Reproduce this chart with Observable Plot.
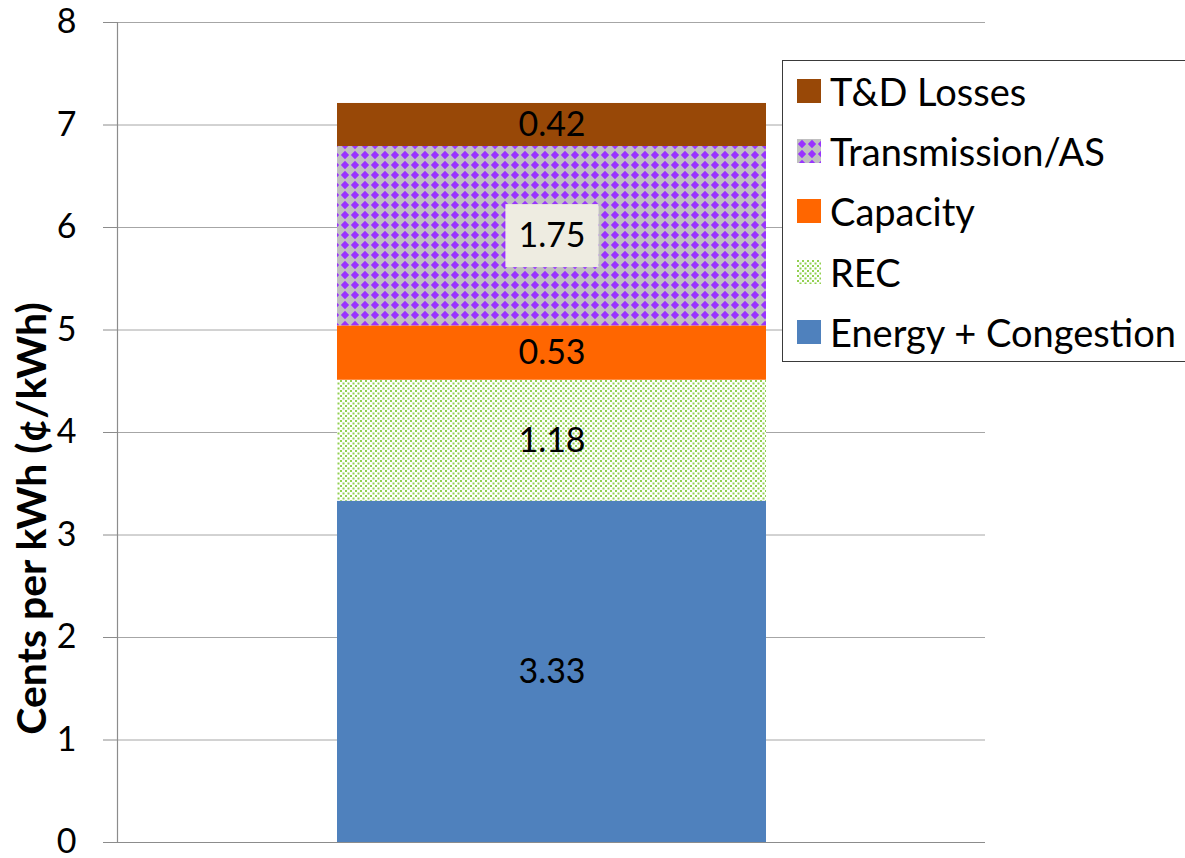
<!DOCTYPE html>
<html>
<head>
<meta charset="utf-8">
<script src="https://cdn.jsdelivr.net/npm/d3@7"></script>
<script src="https://cdn.jsdelivr.net/npm/@observablehq/plot@0.6"></script>
<style>
  html, body { margin: 0; padding: 0; background: #fff; overflow: hidden; }
  body { width: 1185px; height: 858px; position: relative; font-family: Lato, "Open Sans", sans-serif; }
  #chart { position: absolute; left: 0; top: 0; }
  #legend { position: absolute; left: 782px; top: 60px; width: 430px; height: 302px; border: 1px solid #3a3a3a; box-sizing: border-box; background: #fff; }
  .row { position: absolute; left: 0; height: 60px; display: flex; align-items: center; }
  .row svg { margin-left: 14px; flex: none; }
  .row span { margin-left: 9px; font-size: 38px; color: #000; white-space: nowrap; }
</style>
</head>
<body>
<div id="chart"></div>
<div id="legend"></div>
<script>
// ---- data ----
const barCategory = ["Total"];
const segments = ["Energy + Congestion", "REC", "Capacity", "Transmission/AS", "T&D Losses"];
const values = [3.33, 1.18, 0.53, 1.75, 0.42];
const fills = ["#4f81bd", "url(#pat-rec)", "#ff6600", "url(#pat-trans)", "#984807"];
const boxedLabels = ["Transmission/AS"];
const yTicks = [0, 1, 2, 3, 4, 5, 6, 7, 8];
const yTitle = "Cents per kWh (¢/kWh)";

const data = segments.map((s, i) => ({segment: s, value: values[i], cat: barCategory[0]}));

const plot = Plot.plot({
  width: 1185,
  height: 858,
  marginLeft: 117,
  marginRight: 200,
  marginTop: 22,
  marginBottom: 16,
  style: {fontFamily: "Lato, 'Open Sans', sans-serif", background: "transparent", overflow: "visible"},
  x: {domain: barCategory, padding: 0.3385, axis: null},
  y: {domain: [0, 8], axis: null},
  color: {type: "ordinal", domain: segments, range: fills},
  marks: [
    Plot.gridY(yTicks, {stroke: "#a6a6a6", strokeOpacity: 1, strokeWidth: 1}),
    Plot.barY(data, {x: "cat", y: "value", fill: "segment"}),
    Plot.text(data, Plot.stackY({x: "cat", y: "value", text: d => d.value.toFixed(2), fontSize: 34, fill: "#000"})),
    Plot.ruleY([0], {stroke: "#8c8c8c", strokeWidth: 1.2}),
    Plot.frame({anchor: "left", stroke: "#8c8c8c", strokeWidth: 1.2}),
    Plot.axisY({ticks: yTicks, tickFormat: d => String(d), tickSize: 14, tickPadding: 27, fontSize: 34, stroke: "#8c8c8c", fill: "#000", label: null}),
    Plot.text([yTitle], {frameAnchor: "left", textAnchor: "middle", rotate: -90, dx: -85, dy: 86, fontSize: 41, fontWeight: "bold", fill: "#000"})
  ]
});

// pattern definitions
const defs = d3.select(plot).insert("defs", ":first-child");
const pt = defs.append("pattern").attr("id", "pat-trans").attr("patternUnits", "userSpaceOnUse")
  .attr("width", 10).attr("height", 10);
pt.append("rect").attr("width", 10).attr("height", 10).attr("fill", "#c0c0c0");
pt.append("path").attr("d", "M5,0.8L9.2,5L5,9.2L0.8,5Z").attr("fill", "#9933ff");
const pr = defs.append("pattern").attr("id", "pat-rec").attr("patternUnits", "userSpaceOnUse")
  .attr("width", 5).attr("height", 5);
pr.append("rect").attr("width", 5).attr("height", 5).attr("fill", "#ffffff");
pr.append("rect").attr("x", 0).attr("y", 0).attr("width", 2).attr("height", 2).attr("fill", "#92d050");
pr.append("rect").attr("x", 2.5).attr("y", 2.5).attr("width", 2).attr("height", 2).attr("fill", "#92d050");

document.getElementById("chart").appendChild(plot);

// boxed label background: the first text mark group holds the segment labels
const textGroups = plot.querySelectorAll('g[aria-label="text"]');
const labelTexts = textGroups.length ? textGroups[0].querySelectorAll("text") : [];
labelTexts.forEach((t, i) => {
  if (!data[i] || !boxedLabels.includes(data[i].segment)) return;
  const bb = t.getBBox();
  const padX = 13, padY = 11;
  const rect = document.createElementNS("http://www.w3.org/2000/svg", "rect");
  rect.setAttribute("x", bb.x - padX);
  rect.setAttribute("y", bb.y - padY + 2);
  rect.setAttribute("width", bb.width + 2 * padX);
  rect.setAttribute("height", bb.height + 2 * padY);
  rect.setAttribute("fill", "#eeece1");
  if (t.getAttribute("transform")) rect.setAttribute("transform", t.getAttribute("transform"));
  t.parentNode.insertBefore(rect, t);
});

// legend (top to bottom = reverse stack order)
const legend = d3.select("#legend");
segments.slice().reverse().forEach((s, i) => {
  const idx = segments.indexOf(s);
  const row = legend.append("div").attr("class", "row").style("top", (0 + i * 60.2) + "px");
  const sw = row.append("svg").attr("width", 24).attr("height", 24);
  sw.append("rect").attr("width", 24).attr("height", 24).attr("fill", fills[idx]);
  row.append("span").text(s);
});
</script>
</body>
</html>
